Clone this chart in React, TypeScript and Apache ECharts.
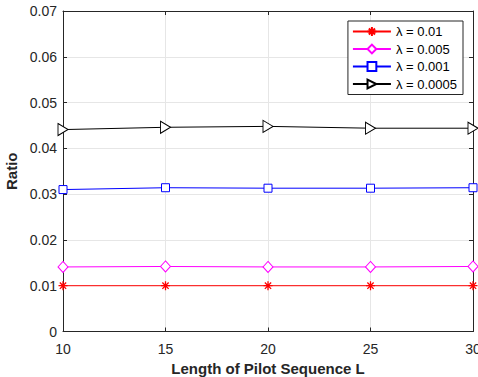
import React, { useEffect, useRef } from "react";
import * as echarts from "echarts";

const xValues = [10, 15, 20, 25, 30];
const seriesNames = ["λ = 0.01", "λ = 0.005", "λ = 0.001", "λ = 0.0005"];
const ratio001 = [0.01, 0.01, 0.01, 0.01, 0.01];
const ratio0005 = [0.0141, 0.0142, 0.0141, 0.0141, 0.0142];
const ratio0001 = [0.031, 0.0314, 0.0313, 0.0313, 0.0314];
const ratio00005 = [0.0441, 0.0446, 0.0448, 0.0444, 0.0444];
const seriesColors = ["#ff0000", "#ff00ff", "#0000ff", "#000000"];

const asterisk =
  "path://M0,5L10,5M5,0L5,10M1.5,1.5L8.5,8.5M1.5,8.5L8.5,1.5";
const diamond = "path://M5,0L10,5L5,10L0,5Z";
const square = "path://M0,0L10,0L10,10L0,10Z";
const triRight = "path://M0,0L10,5L0,10Z";

export default function App() {
  const ref = useRef<HTMLDivElement>(null);
  useEffect(() => {
    if (!ref.current) return;
    const chart = echarts.init(ref.current, undefined, { renderer: "svg" });
    const axisColor = "#262626";
    const font = "Liberation Sans, Arial, sans-serif";
    const pairs = (ys: number[]) => xValues.map((x, i) => [x, ys[i]]);
    const datasets = [ratio001, ratio0005, ratio0001, ratio00005];
    const symbols = [asterisk, diamond, square, triRight];
    const sizes: number[][] = [[9, 9], [10, 11], [8, 8], [10, 12]];
    chart.setOption({
      animation: false,
      backgroundColor: "#ffffff",
      grid: { left: 63, right: 5, top: 11, bottom: 45.5, outerBoundsMode: "none", containLabel: false },
      legend: {
        orient: "vertical",
        right: 15,
        top: 21,
        itemWidth: 38,
        itemHeight: 11,
        itemGap: 4.5,
        padding: [4, 6, 4, 4],
        backgroundColor: "#ffffff",
        borderColor: "#262626",
        borderWidth: 1,
        borderRadius: 0,
        textStyle: { fontFamily: font, fontSize: 13, color: "#000" },
        data: seriesNames,
      },
      xAxis: [
        {
          type: "value",
          min: 10,
          max: 30,
          interval: 5,
          axisLine: { show: true, onZero: false, lineStyle: { color: axisColor, width: 1 } },
          axisTick: { show: true, inside: true, length: 4, lineStyle: { color: axisColor } },
          axisLabel: { color: "#262626", fontFamily: font, fontSize: 14, margin: 10 },
          splitLine: { show: true, lineStyle: { color: "#e6e6e6", width: 1 } },
          name: "Length of Pilot Sequence L",
          nameLocation: "middle",
          nameGap: 29,
          nameTextStyle: { fontFamily: font, fontSize: 15, fontWeight: "bold", color: "#262626" },
        },
        {
          type: "value",
          position: "top",
          min: 10,
          max: 30,
          interval: 5,
          axisLine: { show: true, onZero: false, lineStyle: { color: axisColor, width: 1 } },
          axisTick: { show: true, inside: true, length: 4, lineStyle: { color: axisColor } },
          axisLabel: { show: false },
          splitLine: { show: false },
        },
      ],
      yAxis: [
        {
          type: "value",
          min: 0,
          max: 0.07,
          interval: 0.01,
          axisLine: { show: true, onZero: false, lineStyle: { color: axisColor, width: 1 } },
          axisTick: { show: true, inside: true, length: 4, lineStyle: { color: axisColor } },
          axisLabel: {
            color: "#262626",
            fontFamily: font,
            fontSize: 14,
            margin: 6,
            formatter: (v: number) => (Math.abs(v) < 1e-9 ? "0" : v.toFixed(2)),
          },
          splitLine: { show: true, lineStyle: { color: "#e6e6e6", width: 1 } },
          name: "Ratio",
          nameLocation: "middle",
          nameGap: 40,
          nameTextStyle: { fontFamily: font, fontSize: 15, fontWeight: "bold", color: "#262626" },
        },
        {
          type: "value",
          position: "right",
          min: 0,
          max: 0.07,
          interval: 0.01,
          axisLine: { show: true, onZero: false, lineStyle: { color: axisColor, width: 1 } },
          axisTick: { show: true, inside: true, length: 4, lineStyle: { color: axisColor } },
          axisLabel: { show: false },
          splitLine: { show: false },
        },
      ],
      series: datasets.map((d, i) => ({
        name: seriesNames[i],
        type: "line",
        xAxisIndex: 0,
        yAxisIndex: 0,
        data: pairs(d),
        symbol: symbols[i],
        symbolSize: sizes[i],
        showAllSymbol: true,
        color: seriesColors[i],
        lineStyle: { color: seriesColors[i], width: 1 },
        itemStyle: {
          color: i === 0 ? seriesColors[i] : "#ffffff",
          borderColor: seriesColors[i],
          borderWidth: i === 0 ? 1.3 : 1,
        },
        emphasis: { disabled: true },
        clip: false,
        z: 10 - i,
      })),
    });
    return () => chart.dispose();
  }, []);
  return (
    <div
      ref={ref}
      style={{ position: "fixed", left: 0, top: 0, width: 478, height: 377 }}
    />
  );
}
